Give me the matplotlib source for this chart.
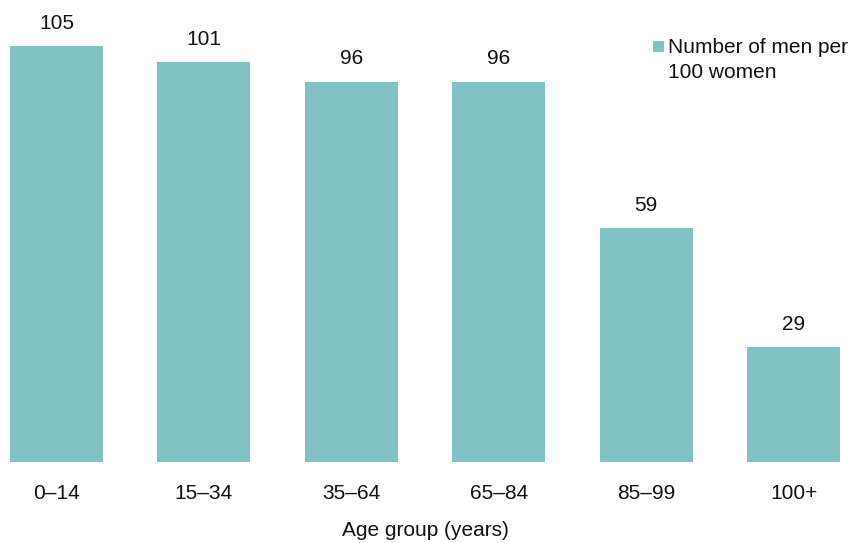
import matplotlib.pyplot as plt
from matplotlib.patches import Rectangle

plt.rcParams['font.family'] = ['Liberation Sans', 'DejaVu Sans']

# data
age_groups = ["0–14", "15–34", "35–64", "65–84", "85–99", "100+"]
men_per_100_women = [105, 101, 96, 96, 59, 29]
legend_label = "Number of men per\n100 women"

bar_color = "#80c1c3"
fs = 15

fig = plt.figure(figsize=(8.51, 5.43), dpi=100)
W, H = 851, 543
ax = fig.add_axes([10 / W, (H - 462) / H, 830 / W, (462 - 20) / H])

x = range(len(age_groups))
bars = ax.bar(x, men_per_100_women, width=0.63, color=bar_color)

for rect, v in zip(bars, men_per_100_women):
    ax.text(rect.get_x() + rect.get_width() / 2, v + 3.4, str(v),
            ha="center", va="bottom", fontsize=fs, color="#111111")

ax.set_xlim(-0.315, 5.315)
ax.set_ylim(0, 111.6)
ax.set_xticks(list(x))
ax.set_xticklabels(age_groups, fontsize=fs, color="#111111")
ax.tick_params(axis="x", length=0, pad=16)
ax.set_yticks([])
for s in ax.spines.values():
    s.set_visible(False)

ax.set_xlabel("Age group (years)", fontsize=fs, color="#111111", labelpad=13)

# legend: swatch lined up with the first text line
fig.patches.append(Rectangle((653 / W, 1 - 52 / H), 11 / W, 11 / H,
                             transform=fig.transFigure, facecolor=bar_color,
                             edgecolor="none"))
fig.text(668 / W, 1 - 38 / H, legend_label, ha="left", va="top",
         fontsize=fs, color="#111111", linespacing=1.4)

fig.savefig("out.png", dpi=100)
